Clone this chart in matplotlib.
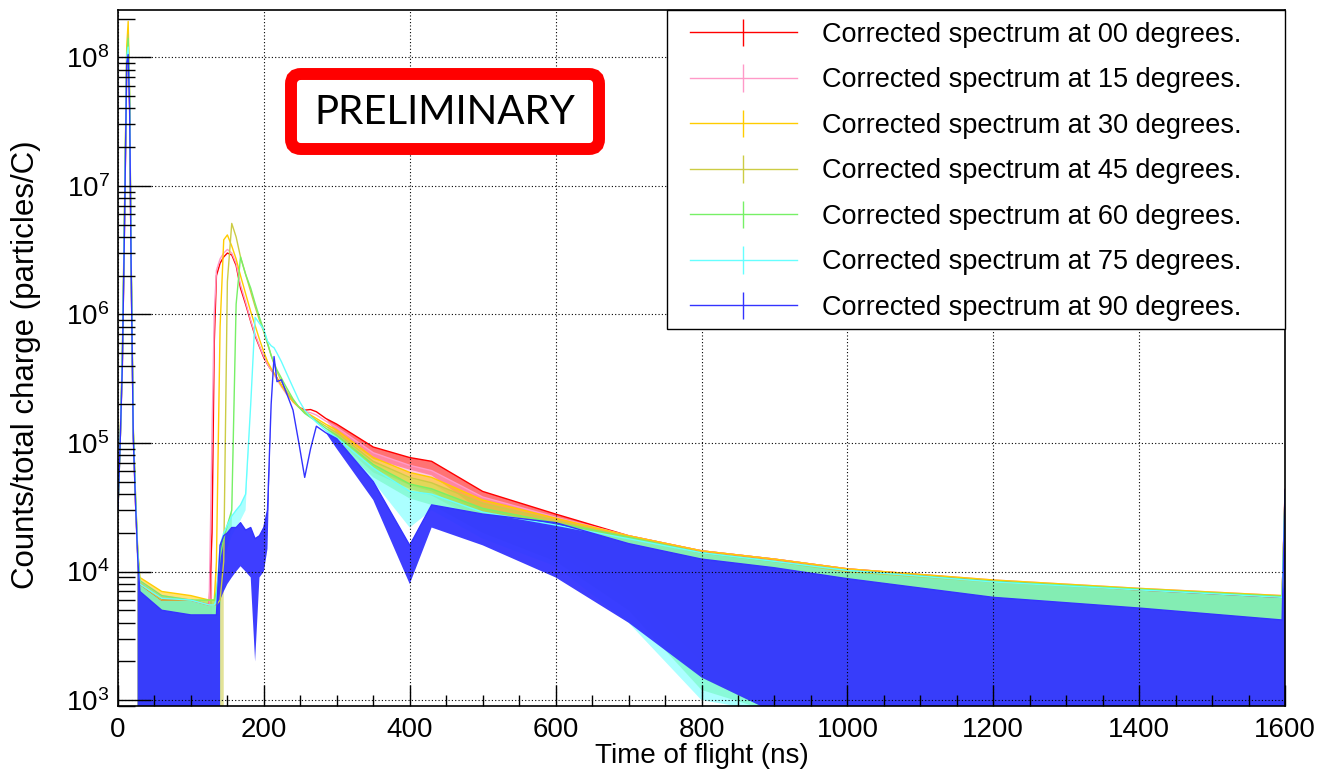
import numpy as np
import matplotlib.pyplot as plt
from matplotlib.patches import FancyBboxPatch, Rectangle
from matplotlib.ticker import MultipleLocator, LogLocator, FuncFormatter, NullFormatter

plt.rcParams['font.family'] = ['Liberation Sans', 'DejaVu Sans']
plt.rcParams['mathtext.fontset'] = 'custom'
plt.rcParams['mathtext.rm'] = 'Liberation Sans'

nan = np.nan

tof = [0, 3, 6, 9, 12, 14, 16, 18, 21, 24, 27, 30, 60, 100, 125, 129, 132, 135, 140, 145,
       150, 156, 162, 168, 175, 182, 188, 194, 200, 205, 210, 214, 218, 224, 231, 240,
       248, 256, 264, 272, 285, 300, 350, 400, 430, 500, 600, 700, 800, 900,
       1000, 1200, 1400, 1596, 1600]

# upper edge of each spectrum (particles/C)
# lo = lower edge of the bin-to-bin noise (nan = no spread, 0 = empty bins, 8e2 = reaches below the axis)
top_00 = [3e4, 1e5, 4e5, 5e6, 8e7, 1.2e8, 4e7, 2.5e6, 1.2e5, 3.5e4, 1.4e4, 8e3, 6e3, 6e3, 5.5e3, 2e4, 6e5, 2e6, 2.5e6, 2.8e6,
          3e6, 2.9e6, 2.4e6, 1.6e6, 1.2e6, 8.8e5, 6.8e5, 5.6e5, 4.6e5, 4.1e5, 3.7e5, 3.45e5, 3.2e5, 2.8e5, 2.45e5, 2.1e5,
          1.9e5, 1.8e5, 1.82e5, 1.75e5, 1.55e5, 1.4e5, 9.3e4, 7.7e4, 7.2e4, 4.2e4, 2.8e4, 1.9e4, 1.45e4, 1.25e4,
          1.05e4, 8.5e3, 7.2e3, 6.3e3, 4.3e4]
lo_00 = [nan] * 11 + [0, 0, 0, 0] + [nan] * 26 + [1.2e5, 7.5e4, 6.2e4, 5.6e4, 2.9e4, 1.8e4, 8e3, 2e3, 8e2, 8e2, 8e2, 8e2, 8e2, 8e2]

top_15 = [3e4, 1e5, 4e5, 5e6, 9e7, 1.3e8, 4e7, 2.5e6, 1.2e5, 3.5e4, 1.4e4, 8.5e3, 6.5e3, 6e3, 5.5e3, 1.2e5, 1e6, 2.2e6, 2.7e6, 3e6,
          3.2e6, 3e6, 2.5e6, 1.7e6, 1.25e6, 9e5, 7e5, 5.7e5, 4.7e5, 4.1e5, 3.7e5, 3.4e5, 3.1e5, 2.75e5, 2.4e5, 2.1e5,
          1.9e5, 1.75e5, 1.72e5, 1.65e5, 1.48e5, 1.32e5, 8.4e4, 6.7e4, 6.1e4, 3.8e4, 2.65e4, 1.9e4, 1.45e4, 1.25e4,
          1.05e4, 8.6e3, 7.4e3, 6.5e3, 4.4e4]
lo_15 = [nan] * 11 + [0, 0, 0, 0] + [nan] * 26 + [1.15e5, 7e4, 5.5e4, 4.9e4, 2.7e4, 1.6e4, 7e3, 2e3, 8e2, 8e2, 8e2, 8e2, 8e2, 8e2]

top_30 = [3e4, 1.1e5, 5e5, 7e6, 1.2e8, 1.9e8, 5e7, 3e6, 1.3e5, 4e4, 1.5e4, 9e3, 7e3, 6.5e3, 6e3, 6e3, 6e3, 1.2e4, 8e5, 3.8e6,
          4.15e6, 3.4e6, 2.7e6, 2e6, 1.45e6, 1.05e6, 8.2e5, 6.4e5, 5.1e5, 4.3e5, 3.8e5, 3.5e5, 3.2e5, 2.8e5, 2.45e5, 2.1e5,
          1.9e5, 1.75e5, 1.65e5, 1.55e5, 1.4e5, 1.26e5, 7.7e4, 5.9e4, 5.4e4, 3.6e4, 2.6e4, 1.9e4, 1.45e4, 1.25e4,
          1.05e4, 8.6e3, 7.4e3, 6.5e3, 4e4]
lo_30 = [nan] * 11 + [0] * 6 + [nan] * 24 + [1.1e5, 6.3e4, 4.7e4, 4.2e4, 2.5e4, 1.5e4, 6e3, 1.5e3, 8e2, 8e2, 8e2, 8e2, 8e2, 8e2]

top_45 = [3e4, 1e5, 4.5e5, 6e6, 1e8, 1.5e8, 4.5e7, 2.8e6, 1.2e5, 3.8e4, 1.4e4, 8e3, 6e3, 6e3, 5.5e3, 5.5e3, 5.5e3, 5.5e3, 6e3, 1.2e4,
          1.8e6, 5.1e6, 4e6, 2.8e6, 2.05e6, 1.5e6, 1.15e6, 9e5, 7.3e5, 5.9e5, 4.8e5, 4.1e5, 3.6e5, 3e5, 2.55e5, 2.15e5,
          1.9e5, 1.72e5, 1.62e5, 1.5e5, 1.35e5, 1.2e5, 7.2e4, 5.4e4, 4.9e4, 3.4e4, 2.5e4, 1.85e4, 1.4e4, 1.2e4,
          1e4, 8.3e3, 7.2e3, 6.4e3, 4e4]
lo_45 = [nan] * 11 + [0] * 8 + [nan] * 22 + [1.05e5, 5.9e4, 4.4e4, 3.9e4, 2.4e4, 1.4e4, 6e3, 1.5e3, 8e2, 8e2, 8e2, 8e2, 8e2, 8e2]

top_60 = [3e4, 1e5, 4.5e5, 6e6, 1e8, 1.4e8, 5e7, 3e6, 1.3e5, 4e4, 1.5e4, 8.5e3, 6.5e3, 6e3, 6e3, 6e3, 6e3, 7e3, 1.3e4, 1.8e4,
          2.3e4, 3e4, 1.2e6, 2.8e6, 2.05e6, 1.6e6, 1.22e6, 9.5e5, 7.5e5, 6e5, 4.8e5, 4.2e5, 3.7e5, 3.2e5, 2.7e5, 2.2e5,
          1.9e5, 1.7e5, 1.58e5, 1.48e5, 1.3e5, 1.15e5, 6.8e4, 4.8e4, 4.4e4, 3.1e4, 2.4e4, 1.85e4, 1.4e4, 1.2e4,
          1.02e4, 8.4e3, 7.3e3, 6.4e3, 4e4]
lo_60 = ([nan] * 11 + [0] * 7 + [5e3, 1.1e4, 1.5e4, 2.2e4] + [nan] * 19
         + [1e5, 5.4e4, 3.7e4, 3.3e4, 2e4, 1.2e4, 5e3, 1.2e3, 8e2, 8e2, 8e2, 8e2, 8e2, 8e2])

top_75 = [3e4, 1e5, 4.5e5, 6e6, 1e8, 1.2e8, 4.5e7, 2.8e6, 1.2e5, 3.8e4, 1.4e4, 8e3, 6.2e3, 6e3, 5.5e3, 5.5e3, 5.5e3, 6e3, 1.6e4, 2e4,
          2.3e4, 2.7e4, 3e4, 3.3e4, 4e4, 2e5, 9.5e5, 8.5e5, 7.6e5, 6.2e5, 5.7e5, 5.5e5, 5e5, 4.3e5, 3.5e5, 2.7e5,
          2.15e5, 1.8e5, 1.6e5, 1.45e5, 1.25e5, 1.1e5, 6.4e4, 4.2e4, 4e4, 2.9e4, 2.3e4, 1.8e4, 1.4e4, 1.2e4,
          1.02e4, 8.3e3, 7.2e3, 6.3e3, 4e4]
lo_75 = ([nan] * 11 + [0] * 7 + [8e3, 1.2e4, 1.5e4, 1.9e4, 2.2e4, 2.5e4, 3e4] + [nan] * 16
         + [9.5e4, 5e4, 2.2e4, 3e4, 1.8e4, 1.1e4, 4e3, 1e3, 8e2, 8e2, 8e2, 8e2, 8e2, 8e2])

top_90 = [3e4, 1e5, 4e5, 5e6, 9e7, 1.05e8, 4e7, 2.5e6, 1.1e5, 3.5e4, 1.3e4, 7e3, 5e3, 4.6e3, 4.6e3, 4.6e3, 4.6e3, 4.6e3, 1.6e4, 1.9e4,
          2e4, 2.2e4, 2.2e4, 2.4e4, 2.1e4, 2.2e4, 1.8e4, 1.9e4, 2.2e4, 3e4, 2e5, 4.7e5, 3e5, 3.1e5, 2.45e5, 1.8e5,
          1e5, 5.4e4, 9e4, 1.35e5, 1.2e5, 1.08e5, 5e4, 1.6e4, 3.3e4, 2.8e4, 2.4e4, 1.65e4, 1.25e4, 1.07e4,
          8.8e3, 6.3e3, 5.2e3, 4.2e3, 4.3e4]
lo_90 = ([nan] * 11 + [0] * 7 + [6e3, 7e3, 8e3, 9e3, 1e4, 1.1e4, 1e4, 9e3, 2e3, 9e3, 1e4, 1.5e4] + [nan] * 11
         + [9e4, 3.6e4, 8e3, 2.2e4, 1.6e4, 9e3, 4e3, 1.5e3, 8e2, 8e2, 8e2, 8e2, 8e2, 8e2])

angles = ["00", "15", "30", "45", "60", "75", "90"]
colors = ["#ff0000", "#ff99c8", "#ffcc00", "#cccc44", "#77f066", "#66ffff", "#3333ff"]
tops = [top_00, top_15, top_30, top_45, top_60, top_75, top_90]
lows = [lo_00, lo_15, lo_30, lo_45, lo_60, lo_75, lo_90]

fig = plt.figure(figsize=(13.18, 7.69), dpi=100)
ax = fig.add_axes([0.0895, 0.0819, 0.8855, 0.9051])

handles = []
for ang, col, top, lo in zip(angles, colors, tops, lows):
    top = np.array(top, dtype=float)
    lo = np.array(lo, dtype=float)
    lo = np.where(np.isnan(lo), top, lo)
    alpha = 0.95 if ang == "90" else 0.55
    ax.fill_between(tof, lo, top, color=col, lw=0, alpha=alpha)
    ax.plot(tof, top, color=col, lw=1)
    h = ax.errorbar([nan], [nan], yerr=[1], color=col, lw=1,
                    label=f"Corrected spectrum at {ang} degrees.")
    handles.append(h)

ax.set_yscale('log')
ax.set_xlim(0, 1600)
ax.set_ylim(900, 2.33e8)

ax.xaxis.set_major_locator(MultipleLocator(200))
ax.xaxis.set_minor_locator(MultipleLocator(50))
ax.yaxis.set_major_locator(LogLocator(base=10, numticks=20))
ax.yaxis.set_minor_locator(LogLocator(base=10, subs=np.arange(2, 10), numticks=20))
ax.yaxis.set_major_formatter(FuncFormatter(lambda v, p: r'$\mathregular{10^{%d}}$' % round(np.log10(v))))
ax.yaxis.set_minor_formatter(NullFormatter())

ax.tick_params(which='both', direction='in', top=False, right=False, width=1, color='black', labelsize=20)
ax.tick_params(axis='y', which='major', length=24, pad=6)
ax.tick_params(axis='y', which='minor', length=12)
ax.tick_params(axis='x', which='major', length=15, pad=8)
ax.tick_params(axis='x', which='minor', length=8)

ax.set_axisbelow(False)
ax.grid(True, which='major', color='black', linestyle=(0, (1, 2)), lw=0.8)
for sp in ax.spines.values():
    sp.set_linewidth(1.2)

ax.set_xlabel('Time of flight (ns)', fontsize=20)
ax.xaxis.set_label_coords(0.5, -0.053)
ax.set_ylabel('Counts/total charge (particles/C)', fontsize=22.5)
ax.yaxis.set_label_coords(-0.066, 0.49)

# legend frame drawn separately so the entries can sit where the reference has them
frame = Rectangle((0.4704, 0.5417), 0.5296, 0.4583, transform=ax.transAxes, fc='white', ec='black',
                  lw=1, zorder=5, clip_on=False)
ax.add_patch(frame)
leg = ax.legend(handles=handles, loc='upper left', bbox_to_anchor=(0.4901, 0.9828),
                borderaxespad=0, borderpad=0, fontsize=19.5, handlelength=3.95, handletextpad=0.92,
                labelspacing=0.72, frameon=False)
leg.set_zorder(6)

box = FancyBboxPatch((2.91, 6.20), 3.08, 0.75, boxstyle='round,pad=0,rounding_size=0.1',
                     transform=fig.dpi_scale_trans, ec='red', fc='white', lw=8.6, zorder=5)
fig.patches.append(box)
fig.text(445 / 1318, 1 - 113 / 769, 'PRELIMINARY', ha='center', va='center', fontsize=29,
         family=['Lato', 'DejaVu Sans'], zorder=6)

fig.savefig('out.png', dpi=100)
